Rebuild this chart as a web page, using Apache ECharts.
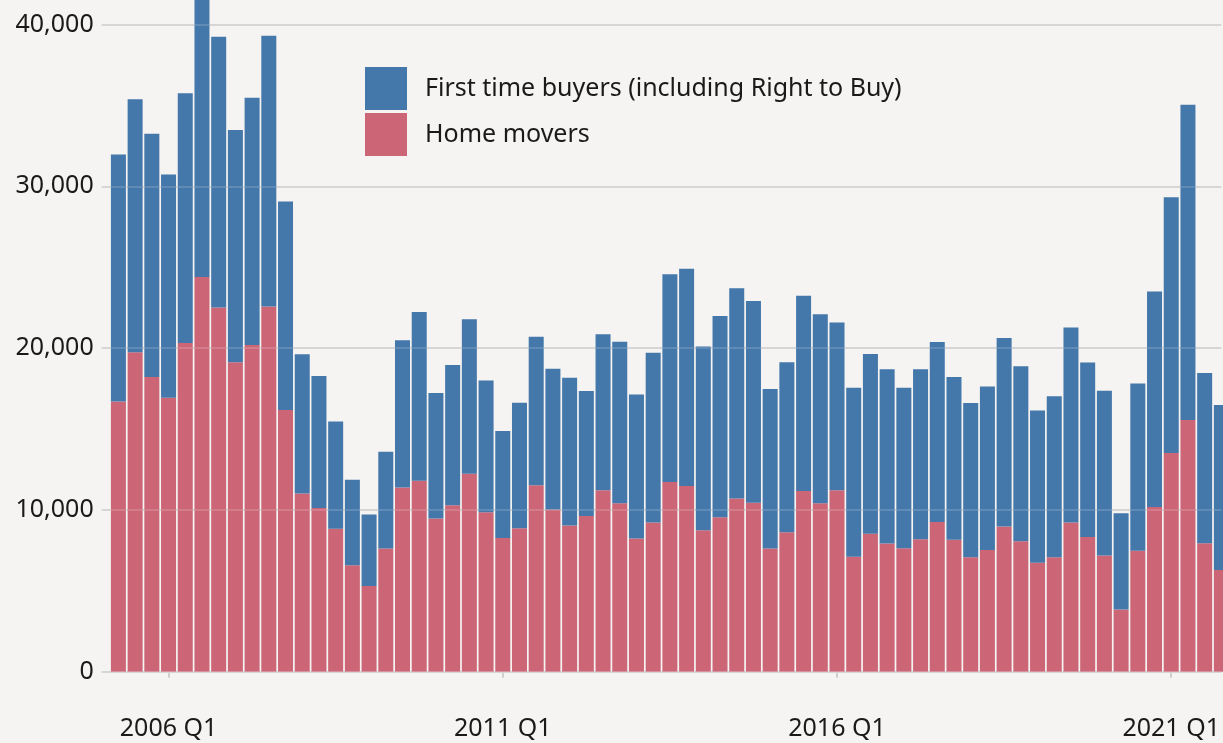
<!DOCTYPE html>
<html><head><meta charset="utf-8">
<script src="https://cdn.jsdelivr.net/npm/echarts@6/dist/echarts.min.js"></script>
<style>html,body{margin:0;padding:0;background:#f5f4f2;overflow:hidden;width:1223px;height:743px}#c{position:absolute;left:0;top:-24px;width:1223px;height:767px}</style>
</head><body><div id="c"></div>
<script>
const quarters = [
 '2005 Q2','2005 Q3','2005 Q4',
 '2006 Q1','2006 Q2','2006 Q3','2006 Q4',
 '2007 Q1','2007 Q2','2007 Q3','2007 Q4',
 '2008 Q1','2008 Q2','2008 Q3','2008 Q4',
 '2009 Q1','2009 Q2','2009 Q3','2009 Q4',
 '2010 Q1','2010 Q2','2010 Q3','2010 Q4',
 '2011 Q1','2011 Q2','2011 Q3','2011 Q4',
 '2012 Q1','2012 Q2','2012 Q3','2012 Q4',
 '2013 Q1','2013 Q2','2013 Q3','2013 Q4',
 '2014 Q1','2014 Q2','2014 Q3','2014 Q4',
 '2015 Q1','2015 Q2','2015 Q3','2015 Q4',
 '2016 Q1','2016 Q2','2016 Q3','2016 Q4',
 '2017 Q1','2017 Q2','2017 Q3','2017 Q4',
 '2018 Q1','2018 Q2','2018 Q3','2018 Q4',
 '2019 Q1','2019 Q2','2019 Q3','2019 Q4',
 '2020 Q1','2020 Q2','2020 Q3','2020 Q4',
 '2021 Q1','2021 Q2','2021 Q3','2021 Q4'
];
const homeMovers = [
 16700,19740,18220,16930,20320,24390,22510,19120,20200,22570,
 16170,11020,10120,8830,6580,5290,7620,11380,11810,9470,
 10290,12240,9860,8270,8870,11520,10020,9030,9630,11210,
 10410,8230,9220,11720,11480,8740,9550,10700,10450,7610,
 8620,11170,10410,11210,7100,8520,7920,7630,8180,9260,
 8160,7080,7520,8980,8070,6740,7080,9220,8330,7180,
 3840,7470,10180,13520,15560,7940,6290
];
const firstTimeBuyers = [
 15260,15640,15030,13800,15440,18000,16730,14360,15270,16730,
 12890,8600,8150,6640,5290,4420,5980,9110,10430,7750,
 8660,9550,8140,6610,7760,9180,8700,9140,7720,9650,
 9980,8910,10490,12850,13420,11360,12430,13000,12470,9860,
 10500,12060,11690,10370,10450,11110,10780,9920,10510,11120,
 10050,9530,10100,11650,10810,9400,9940,12060,10780,10180,
 5950,10340,13320,15800,19480,10520,10190
];
const labelledQuarters = ['2006 Q1','2011 Q1','2016 Q1','2021 Q1'];
const yTicks = [0, 10000, 20000, 30000, 40000];

const FONT = "'Noto Sans', sans-serif";
const TXT = '#1a1a1a';
// one empty slot before the first quarter gives the left padding of the plot
const xCats = [''].concat(quarters);
const showQ = (i) => labelledQuarters.indexOf(xCats[i]) >= 0;

const gridLines = (color, z) => ({
  type: 'line', name: '_grid' + z, silent: true, data: [], symbol: 'none',
  markLine: {silent: true, symbol: 'none', label: {show: false}, z: z,
             lineStyle: {color: color, width: 2, type: 'solid'},
             data: yTicks.map(v => ({yAxis: v}))}
});

const chart = echarts.init(document.getElementById('c'), null, {renderer:'canvas'});
chart.setOption({
  animation: false,
  backgroundColor: '#f5f4f2',
  grid: {left: 101.7, right: 0, top: 0, bottom: 71.3},
  xAxis: {
    type: 'category', data: xCats, boundaryGap: false, offset: 35,
    axisLine: {show: false}, splitLine: {show: false},
    axisTick: {show: true, interval: showQ, length: 6,
               lineStyle: {color: '#cfcfcf', width: 2}},
    axisLabel: {interval: showQ, margin: 10, fontSize: 25, color: TXT, fontFamily: FONT}
  },
  yAxis: {
    type: 'value', min: 0, max: 43000,
    axisLine: {show: false}, axisTick: {show: false},
    axisLabel: {customValues: yTicks, margin: 8, fontSize: 25, color: TXT, fontFamily: FONT,
                formatter: v => v.toLocaleString('en-US')},
    splitLine: {show: false}
  },
  legend: {
    data: ['First time buyers (including Right to Buy)', 'Home movers'],
    orient: 'vertical', left: 360, top: 86, itemWidth: 42, itemHeight: 43, itemGap: 3,
    icon: 'rect', selectedMode: false,
    textStyle: {fontSize: 25, color: TXT, fontFamily: FONT, padding: [0, 0, 0, 13]}
  },
  series: [
    gridLines('#cfcfcf', 1),
    {type: 'bar', name: 'Home movers', stack: 't',
     data: [null].concat(homeMovers), barWidth: 15, itemStyle: {color: '#cc6677'}, z: 2},
    {type: 'bar', name: 'First time buyers (including Right to Buy)', stack: 't',
     data: [null].concat(firstTimeBuyers), barWidth: 15, itemStyle: {color: '#4477aa'}, z: 2},
    gridLines('rgba(255,255,255,0.15)', 6)
  ]
});
</script></body></html>
